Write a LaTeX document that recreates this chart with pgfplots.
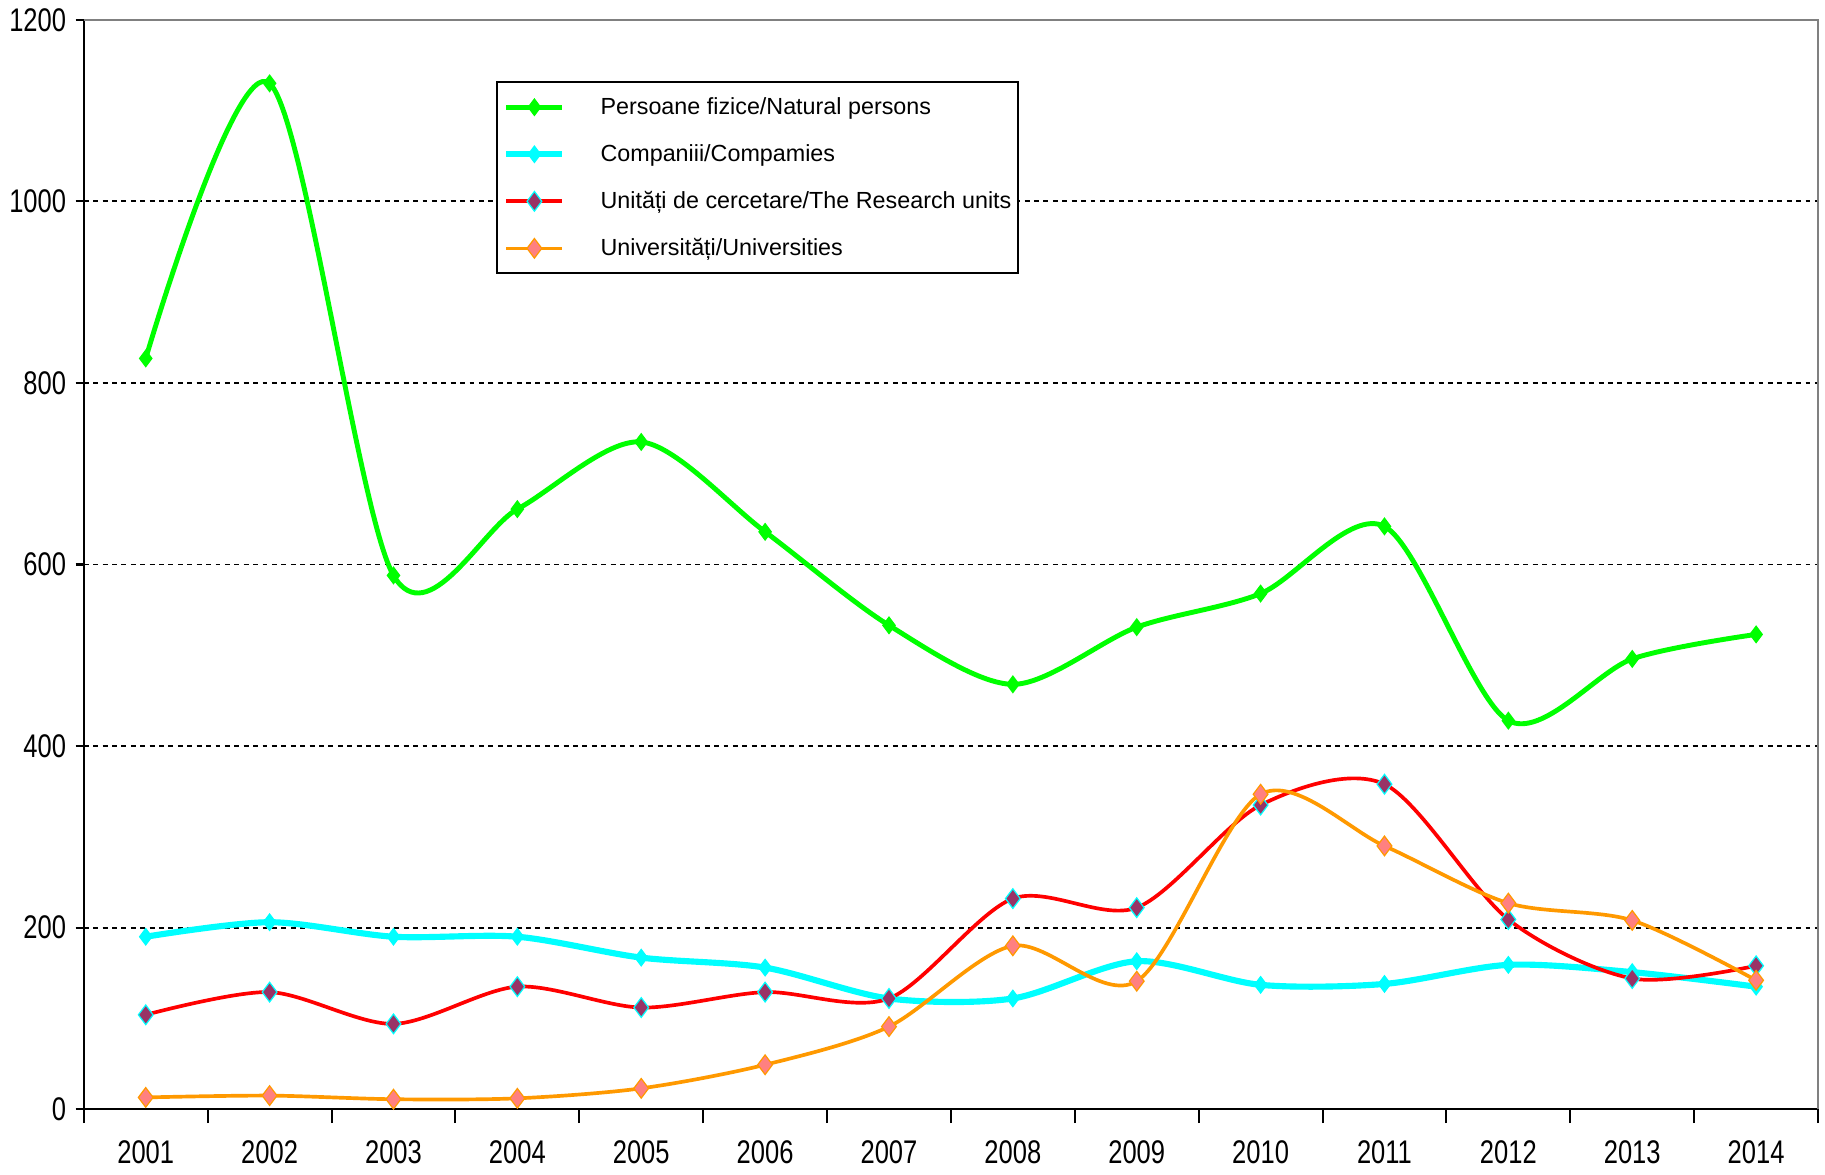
\documentclass[border=0pt]{standalone}
\usepackage{fontspec}
\setmainfont{Liberation Sans}
\newfontfamily\narrowsans{Liberation Sans}[FakeStretch=0.78]
\usepackage{pgfplots}
\usepackage{pgfplotstable}
\pgfplotsset{compat=1.18}

\definecolor{natgreen}{RGB}{0,255,0}
\definecolor{compcyan}{RGB}{0,255,255}
\definecolor{resred}{RGB}{255,0,0}
\definecolor{resmark}{RGB}{153,51,102}
\definecolor{univorange}{RGB}{255,153,0}
\definecolor{univmark}{RGB}{255,128,128}

% 1..14 = 2001..2014
\pgfplotstableread{
yr nat comp res univ
1  827  190 104 13
2  1130 206 129 15
3  588  190 94  11
4  661  190 135 12
5  735  167 112 23
6  636  156 129 49
7  533  122 122 91
8  468  122 232 180
9  531  163 222 141
10 568  137 335 347
11 642  138 358 290
12 428  159 209 227
13 496  151 144 208
14 523  135 158 142
}\data

\begin{document}
\begin{tikzpicture}
\begin{axis}[
  scale only axis,
  width=14.9cm, height=9.36cm,
  xmin=0.5, xmax=14.5,
  ymin=0, ymax=1200,
  axis x line*=bottom,
  axis y line*=left,
  axis line style={black, line width=0.5pt, -},
  xtick={1,...,14},
  xticklabels={2001,2002,2003,2004,2005,2006,2007,2008,2009,2010,2011,2012,2013,2014},
  major x tick style={draw=none},
  minor xtick={0.5,1.5,...,14.5},
  minor tick length=0.12cm,
  ytick={0,200,...,1200},
  major tick length=0.07cm,
  tick align=outside,
  tick style={black, line width=0.5pt},
  extra y ticks={200,400,600,800,1000},
  extra y tick labels={},
  extra y tick style={grid=major, major tick length=0pt},
  grid style={black, line width=0.45pt, dash pattern=on 1.2pt off 1.1pt},
  /pgf/number format/1000 sep={},
  /pgf/number format/assume math mode=true,
  ticklabel style={font=\narrowsans\fontsize{8}{9}\selectfont, inner sep=1pt},
  xticklabel style={yshift=-0.16cm},
  yticklabel style={xshift=-0.04cm},
  clip=false,
  legend cell align=left,
  legend style={
    at={(0.2376,0.9434)}, anchor=north west,
    draw=black, line width=0.5pt,
    font=\fontsize{5.7}{6.8}\selectfont,
    inner xsep=1.6pt, inner ysep=2.8pt,
    row sep=5pt, column sep=8.6pt,
    nodes={inner xsep=0pt, inner ysep=0pt, text height=5pt, text depth=1.5pt},
  },
  legend image code/.code={\draw[mark repeat=2,mark phase=2,#1] plot coordinates {(0cm,0cm) (0.24cm,0cm) (0.48cm,0cm)};},
]
\addplot[natgreen, line width=1.2pt, smooth, mark=diamond*, mark size=2pt,
  mark options={fill=natgreen, draw=natgreen, line width=0.3pt}]
  table[x=yr, y=nat] {\data};
\addlegendentry{Persoane fizice/Natural persons}
\addplot[compcyan, line width=1.5pt, smooth, mark=diamond*, mark size=2pt,
  mark options={fill=compcyan, draw=compcyan, line width=0.3pt}]
  table[x=yr, y=comp] {\data};
\addlegendentry{Companiii/Compamies}
\addplot[resred, line width=0.9pt, smooth, mark=diamond*, mark size=2.4pt,
  mark options={fill=resmark, draw=compcyan, line width=0.3pt}]
  table[x=yr, y=res] {\data};
\addlegendentry{Unități de cercetare/The Research units}
\addplot[univorange, line width=0.9pt, smooth, mark=diamond*, mark size=2.4pt,
  mark options={fill=univmark, draw=univorange, line width=0.3pt}]
  table[x=yr, y=univ] {\data};
\addlegendentry{Universități/Universities}
\draw[gray, line width=0.5pt] (rel axis cs:0,1) -- (rel axis cs:1,1) -- (rel axis cs:1,0);
% page margins as in the reference
\path (rel axis cs:0,0) ++(-0.72cm,-0.56cm);
\path (rel axis cs:1,1) ++(0.06cm,0.17cm);
\end{axis}
\end{tikzpicture}
\end{document}
